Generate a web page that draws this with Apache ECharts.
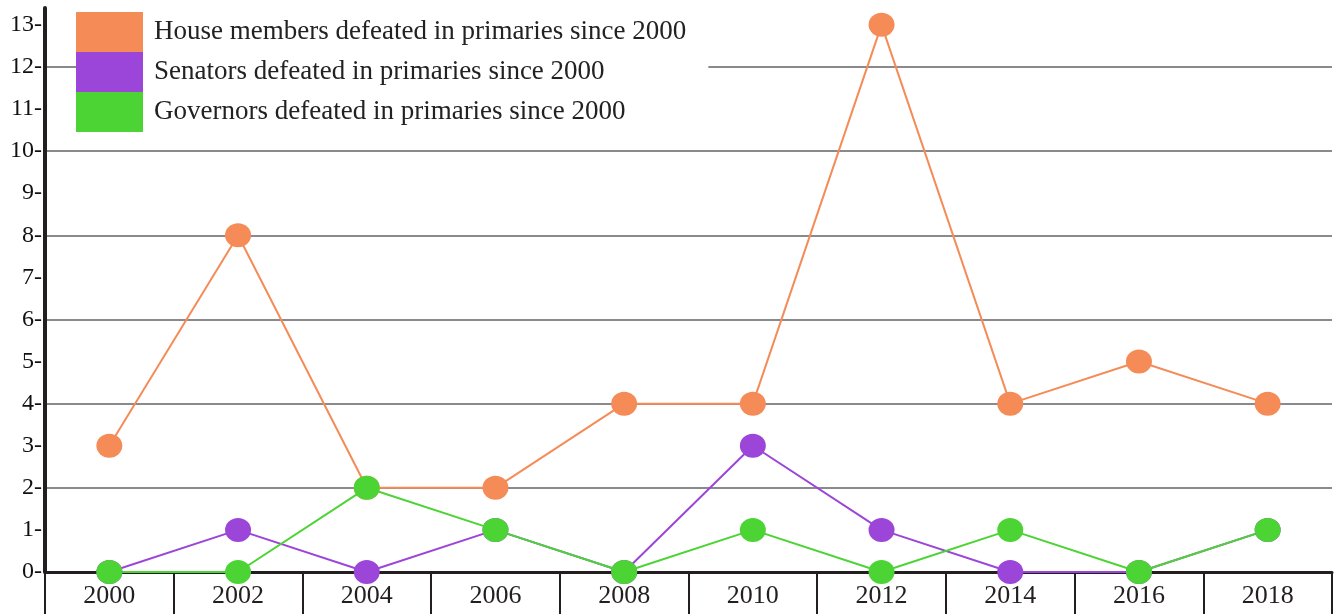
<!DOCTYPE html>
<html>
<head>
<meta charset="utf-8">
<script src="https://cdn.jsdelivr.net/npm/echarts@6/dist/echarts.min.js"></script>
<style>
    html, body { margin: 0; padding: 0; background: #fff; }
    #chart { width: 1336px; height: 614px; }
</style>
</head>
<body>
<div id="chart"></div>
<script>
// data
var years = ['2000','2002','2004','2006','2008','2010','2012','2014','2016','2018'];
var house = [3, 8, 2, 2, 4, 4, 13, 4, 5, 4];
var senators = [0, 1, 0, 1, 0, 3, 1, 0, 0, 1];
var governors = [0, 0, 2, 1, 0, 1, 0, 1, 0, 1];
var names = ['House members defeated in primaries since 2000',
             'Senators defeated in primaries since 2000',
             'Governors defeated in primaries since 2000'];
var colors = ['#f58b57', '#9b45d9', '#4cd435'];

var font = '"Liberation Serif", "DejaVu Serif", serif';

function makeSeries(name, data, color){
    return {
        name: name,
        type: 'line',
        data: data,
        symbol: 'circle',
        symbolSize: [26, 24],
        itemStyle: { color: color },
        lineStyle: { color: color, width: 2 },
        emphasis: { disabled: true },
        animation: false
    };
}

window.onload = function(){
    var myChart = echarts.init(document.getElementById('chart'));
    var option = {
        color: colors,
        textStyle: { fontFamily: font },
        legend: {
            data: names,
            orient: 'vertical',
            left: 76,
            top: 12,
            padding: [0, 22, 0, 0],
            backgroundColor: '#fff',
            icon: 'rect',
            itemWidth: 67,
            itemHeight: 40,
            itemGap: 0,
            selectedMode: false,
            textStyle: { fontFamily: font, fontSize: 27, color: '#222', padding: [0, 0, 0, 6] }
        },
        grid: { left: 45, right: 4, top: 8, bottom: 42 },
        xAxis: {
            type: 'category',
            data: years,
            boundaryGap: true,
            axisLine: { lineStyle: { color: '#231f20', width: 3 } },
            axisTick: { show: true, interval: 0, length: 42, lineStyle: { color: '#231f20', width: 2 } },
            axisLabel: { interval: 0, color: '#231f20', fontFamily: font, fontSize: 26, margin: 11 },
            splitLine: { show: false }
        },
        yAxis: [{
            type: 'value',
            min: 0,
            max: 13.4,
            interval: 1,
            axisLine: { show: true, lineStyle: { color: '#231f20', width: 4 } },
            axisTick: { show: false },
            axisLabel: { formatter: '{value}-', color: '#111', fontFamily: font, fontSize: 24, margin: 3, showMaxLabel: false },
            splitLine: { show: false }
        }, {
            type: 'value',
            min: 0,
            max: 13.4,
            interval: 2,
            axisLine: { show: false },
            axisTick: { show: false },
            axisLabel: { show: false },
            splitLine: { show: true, showMinLine: false, showMaxLine: false, lineStyle: { color: '#8a8a8e', width: 2 } }
        }],
        series: [
            makeSeries(names[0], house, colors[0]),
            makeSeries(names[1], senators, colors[1]),
            makeSeries(names[2], governors, colors[2])
        ]
    };
    myChart.setOption(option);
};
</script>
</body>
</html>
